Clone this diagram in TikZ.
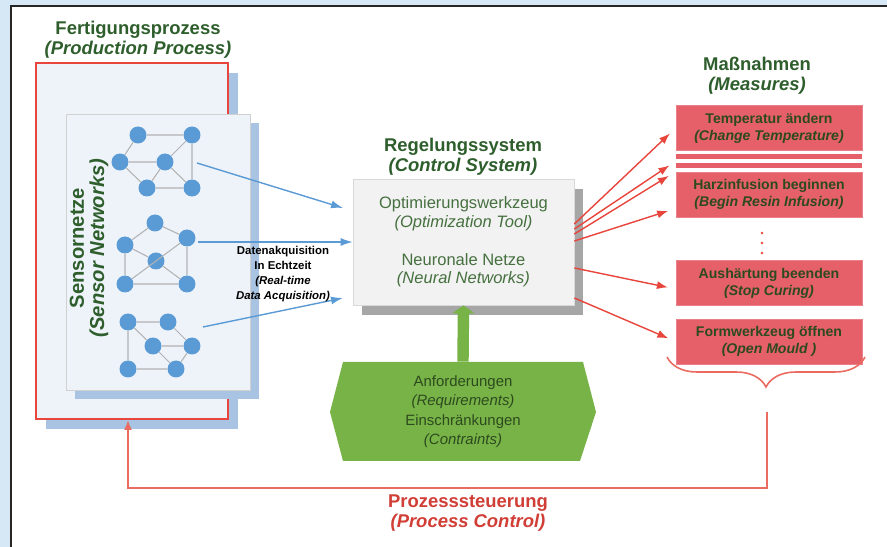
\documentclass[tikz,border=0pt]{standalone}
\usepackage{fontspec}
\setmainfont{Liberation Sans}
\usetikzlibrary{arrows.meta,shadows,decorations.pathreplacing}

\definecolor{bgblue}{HTML}{D6E7F5}
\definecolor{panelblue}{HTML}{EEF3FA}
\definecolor{shadowblue}{HTML}{A9C4E2}
\definecolor{sensorblue}{HTML}{5B9BD5}
\definecolor{titlegreen}{HTML}{2E5E2C}
\definecolor{textgreen}{HTML}{46703F}
\definecolor{boxtext}{HTML}{2D4A1E}
\definecolor{reqgreen}{HTML}{78B348}
\definecolor{measred}{HTML}{E6606A}
\definecolor{linered}{HTML}{E8453C}
\definecolor{fbred}{HTML}{EC6B60}
\definecolor{ctrlgray}{HTML}{F2F2F2}

\begin{document}
\begin{tikzpicture}[>=Latex, x=0.02cm, y=-0.02cm,
  title/.style={font=\fontsize{10.5}{11.5}\selectfont\bfseries, text=titlegreen, align=center},
  sensor/.style={circle, fill=sensorblue, minimum size=0.34cm, inner sep=0pt},
  link/.style={draw=black!30, line width=0.6pt},
  measure/.style={fill=measred, draw=measred!80!white, minimum width=3.72cm, minimum height=0.9cm,
    align=center, text=boxtext, font=\fontsize{8}{9.6}\selectfont\bfseries},
  bluearrow/.style={draw=sensorblue, line width=0.8pt, -{Latex[length=0.24cm,width=0.16cm]}},
  redarrow/.style={draw=linered, line width=0.8pt, shorten >=4.5pt, -{Latex[length=0.22cm,width=0.16cm]}}]

  \useasboundingbox (0,0) rectangle (887,547);
  \fill[bgblue] (0,0) rectangle (887,547);
  \draw[fill=white, draw=black!85, line width=0.9pt] (11,6) rectangle (900,560);

  % production process
  \node[title] (prodtitle) at (138,40) {Fertigungsprozess\\\textit{(Production Process)}};
  \node[draw=linered, line width=1.1pt, fill=panelblue, minimum width=3.84cm, minimum height=7.12cm,
    drop shadow={shadow xshift=0.2cm, shadow yshift=-0.2cm, fill=shadowblue, opacity=1}] (prod) at (132,241) {};
  \node[draw=black!18, fill=panelblue, minimum width=3.68cm, minimum height=5.52cm,
    drop shadow={shadow xshift=0.18cm, shadow yshift=-0.18cm, fill=shadowblue, opacity=1}] (sens) at (158,252) {};
  \node[title, rotate=90, font=\fontsize{11.5}{12}\selectfont\bfseries] (senstitle) at (77,248) {Sensornetze};
  \node[title, rotate=90, font=\fontsize{11.5}{12}\selectfont\bfseries\itshape] (senstitle2) at (99,248) {(Sensor Networks)};

  % sensor networks
  \node[sensor] (a1) at (138,135) {};
  \node[sensor] (b1) at (192,135) {};
  \node[sensor] (c1) at (120,162) {};
  \node[sensor] (d1) at (165,162) {};
  \node[sensor] (e1) at (147,188) {};
  \node[sensor] (f1) at (192,188) {};
  \draw[link] (a1) -- (b1) (a1) -- (c1) (c1) -- (d1) (d1) -- (b1) (b1) -- (f1)
    (d1) -- (f1) (d1) -- (e1) (c1) -- (e1) (e1) -- (f1);

  \node[sensor] (a2) at (155,223) {};
  \node[sensor] (b2) at (125,245) {};
  \node[sensor] (c2) at (187,238) {};
  \node[sensor] (d2) at (156,261) {};
  \node[sensor] (e2) at (125,284) {};
  \node[sensor] (f2) at (187,284) {};
  \draw[link] (a2) -- (b2) (a2) -- (c2) (b2) -- (e2) (c2) -- (f2) (e2) -- (f2)
    (b2) -- (d2) (d2) -- (f2) (c2) -- (e2);

  \node[sensor] (a3) at (128,322) {};
  \node[sensor] (b3) at (168,322) {};
  \node[sensor] (c3) at (153,346) {};
  \node[sensor] (d3) at (192,346) {};
  \node[sensor] (e3) at (128,369) {};
  \node[sensor] (f3) at (176,369) {};
  \draw[link] (a3) -- (b3) (a3) -- (e3) (e3) -- (f3) (a3) -- (c3) (c3) -- (d3)
    (b3) -- (d3) (d3) -- (f3) (c3) -- (f3);

  % control system
  \node[title] (ctrltitle) at (463,157) {Regelungssystem\\\textit{(Control System)}};
  \node[draw=black!15, fill=ctrlgray, minimum width=4.42cm, minimum height=2.52cm, align=center,
    text=textgreen, font=\fontsize{9.4}{10.6}\selectfont,
    drop shadow={shadow xshift=0.18cm, shadow yshift=-0.2cm, fill=black!35, opacity=1}] (ctrl) at (463.5,242)
    {Optimierungswerkzeug\\\textit{(Optimization Tool)}\\[11pt]Neuronale Netze\\\textit{(Neural Networks)}};

  \coordinate (s1) at (197,163);
  \coordinate (s2) at (198,242);
  \coordinate (s3) at (203,327);
  \coordinate (e1) at (343,208);
  \coordinate (e3) at (343,298);
  \draw[bluearrow] (s1) -- (e1);
  \draw[bluearrow] (s2) -- (s2 -| ctrl.west);
  \draw[bluearrow] (s3) -- (e3);

  \node[font=\fontsize{6.5}{8.4}\selectfont\bfseries, align=center] (acq) at (283,274)
    {Datenakquisition\\In Echtzeit\\\textit{(Real-time}\\\textit{Data Acquisition)}};

  % requirements
  \fill[reqgreen] (343,362) -- (583,362) -- (596,412) -- (580,461) -- (343,461) -- (330,412) -- cycle;
  \node[minimum height=1.98cm, align=center, text=boxtext, font=\fontsize{8.5}{11}\selectfont] (req) at (463,411.5)
    {Anforderungen\\\textit{(Requirements)}\\Einschränkungen\\\textit{(Contraints)}};
  \draw[reqgreen, line width=6.5pt, -{Triangle[length=0.16cm,width=0.44cm]}] (req.north) -- (ctrl.south);

  % measures
  \node[title] (meastitle) at (757,76) {Maßnahmen\\\textit{(Measures)}};
  \node[measure] (m1) at (769,128) {Temperatur ändern\\\textit{(Change Temperature)}};
  \fill[measred] (676,154) rectangle (862,159);
  \fill[measred] (676,163) rectangle (862,168);
  \coordinate (stripes) at (676,161);
  \node[measure] (m2) at (769,194.5) {Harzinfusion beginnen\\\textit{(Begin Resin Infusion)}};
  \node[measure] (m3) at (769,283) {Aushärtung beenden\\\textit{(Stop Curing)}};
  \node[measure] (m4) at (769,341.5) {Formwerkzeug öffnen\\\textit{(Open Mould )}};
  \foreach \y in {233,243,253} \fill[linered] (762,\y) circle (1.3);

  \draw[redarrow] ([yshift=0.36cm]ctrl.east) -- (m1.west);
  \draw[redarrow] ([yshift=0.26cm]ctrl.east) -- (stripes);
  \draw[redarrow] ([yshift=0.16cm]ctrl.east) -- (m2.north west);
  \draw[redarrow] ([yshift=0.02cm]ctrl.east) -- ([yshift=-0.28cm]m2.west);
  \draw[redarrow] ([yshift=-0.52cm]ctrl.east) -- ([yshift=-0.12cm]m3.west);
  \draw[redarrow] ([yshift=-1.12cm]ctrl.east) -- (m4.west);

  % process control
  \draw[fbred, line width=0.9pt, decorate, decoration={brace, amplitude=0.6cm}] (865,357) -- (667,357);
  \coordinate (fbstart) at (767,412);
  \draw[fbred, line width=1.2pt, -{Latex[length=0.2cm,width=0.16cm]}]
    (fbstart) -- (767,488) -| ([xshift=-0.08cm]prod.south);
  \node[font=\fontsize{10.5}{11.5}\selectfont\bfseries, text=linered!90!black, align=center] (fbtitle) at (468,513)
    {Prozesssteuerung\\\textit{(Process Control)}};

\end{tikzpicture}
\end{document}
